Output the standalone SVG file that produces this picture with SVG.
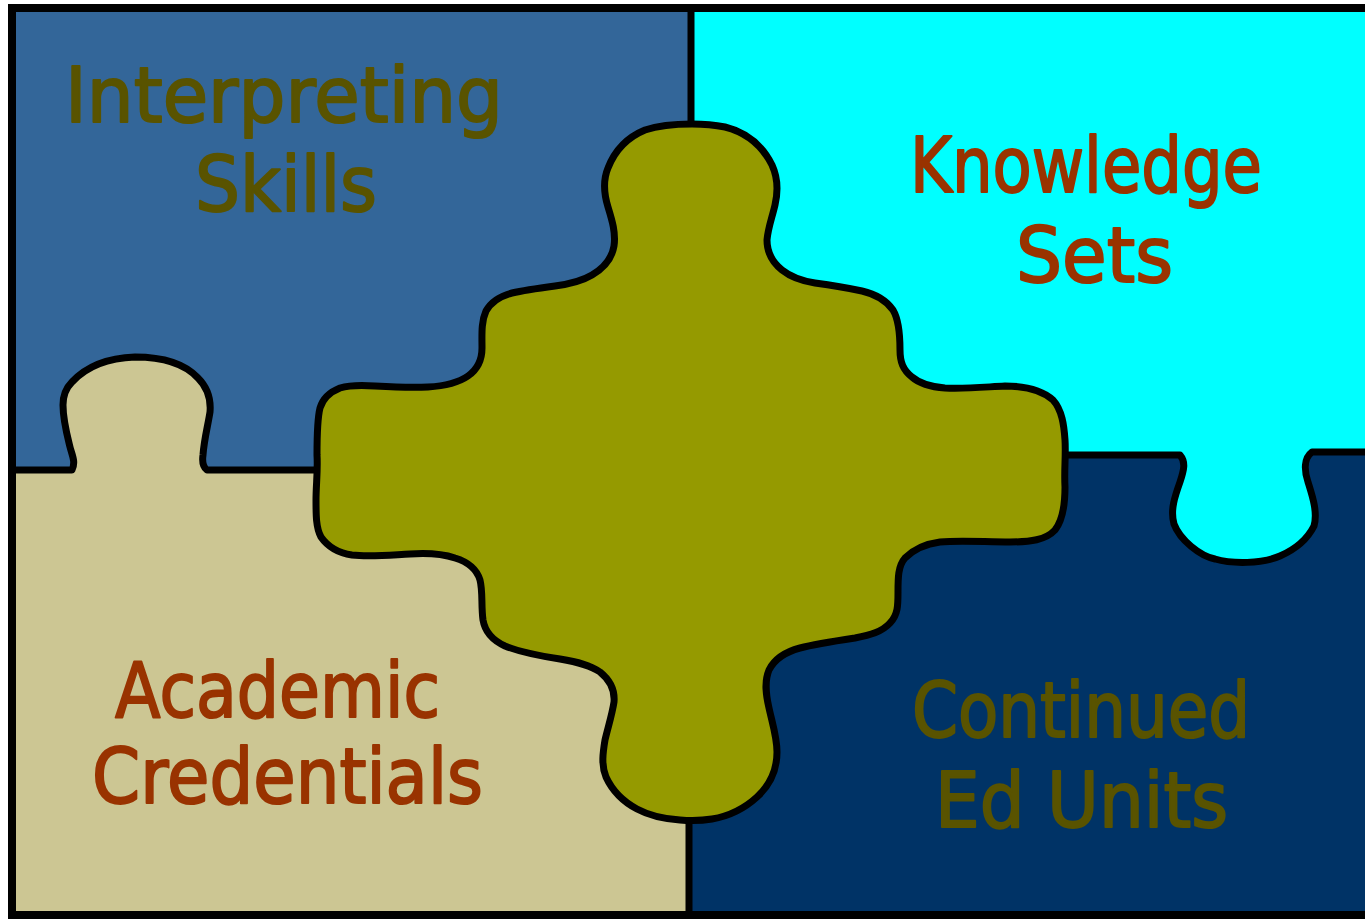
<svg xmlns="http://www.w3.org/2000/svg" width="1365" height="919" viewBox="0 0 1365 919">
<defs>
<style>
.ln{fill:none;stroke:#000;stroke-width:7;stroke-linejoin:round;stroke-linecap:round}
.t{font-family:"DejaVu Sans","Liberation Sans",sans-serif;font-size:76px;stroke-width:2;stroke-linejoin:round}
.olive{fill:#595300;stroke:#595300}
.rust{fill:#993300;stroke:#993300}
</style>
</defs>
<rect width="1365" height="919" fill="#ffffff"/>
<g id="interpreting-skills">
<rect x="12" y="8" width="679" height="462" fill="#336699"/>
<text class="t olive" x="65" y="122" textLength="438" lengthAdjust="spacingAndGlyphs">Interpreting</text>
<text class="t olive" x="195" y="211" textLength="182" lengthAdjust="spacingAndGlyphs">Skills</text>
</g>
<g id="continued-ed-units">
<rect x="689" y="455" width="682" height="461" fill="#003366"/>
<text class="t olive" x="912" y="737" textLength="338" lengthAdjust="spacingAndGlyphs">Continued</text>
<text class="t olive" x="935" y="827" textLength="293" lengthAdjust="spacingAndGlyphs">Ed Units</text>
</g>
<g id="knowledge-sets">
<rect x="691" y="8" width="680" height="447" fill="#00FFFF"/>
<path d="M1180,455 C1186,462 1184,470 1180,482 C1175,496 1170,510 1174,524 C1180,540 1200,556 1215,559 C1232,564 1262,564 1280,556 C1296,549 1308,538 1314,526 C1318,512 1312,495 1308,482 C1304,470 1304,458 1312,452 L1372,452 L1372,455 Z" fill="#00FFFF"/>
<text class="t rust" x="910" y="192" textLength="352" lengthAdjust="spacingAndGlyphs">Knowledge</text>
<text class="t rust" x="1016" y="282" textLength="157" lengthAdjust="spacingAndGlyphs">Sets</text>
</g>
<g id="academic-credentials">
<rect x="12" y="470" width="677" height="446" fill="#CCC693"/>
<path d="M72,470 C76,462 72,455 70,447 C67,435 63,420 63,405 C63,395 66,388 72,382 C85,368 105,358 135,357 C165,357 185,364 198,378 C208,388 211,400 210,412 C208,425 204,440 203,455 C202,462 203,467 207,470 Z" fill="#CCC693"/>
<text class="t rust" x="115" y="717" textLength="325" lengthAdjust="spacingAndGlyphs">Academic</text>
<text class="t rust" x="92" y="803" textLength="391" lengthAdjust="spacingAndGlyphs">Credentials</text>
</g>
<g id="connectors">
<path class="ln" d="M12,470 H72 C76,462 72,455 70,447 C67,435 63,420 63,405 C63,395 66,388 72,382 C85,368 105,358 135,357 C165,357 185,364 198,378 C208,388 211,400 210,412 C208,425 204,440 203,455 C202,462 203,467 207,470 H320"/>
<path class="ln" d="M1062,455 H1180 C1186,462 1184,470 1180,482 C1175,496 1170,510 1174,524 C1180,540 1200,556 1215,559 C1232,564 1262,564 1280,556 C1296,549 1308,538 1314,526 C1318,512 1312,495 1308,482 C1304,470 1304,458 1312,452 H1372"/>
<path class="ln" d="M691,8 V128"/>
<path class="ln" d="M689,816 V916"/>
</g>
<g id="center-piece">
<path d="M692,124 C705,124 715,125 725,127 C745,132 762,145 772,165 C778,178 778,192 775,205 C772,218 768,228 767,240 C767,252 772,262 782,270 C792,278 802,281 815,283 C830,285 848,288 862,291 C875,294 886,300 893,310 C899,320 900,335 900,350 C900,362 903,370 912,377 C920,384 932,387 945,388 C965,389 985,387 1005,386 C1025,386 1042,390 1053,400 C1062,410 1064,425 1065,440 C1066,455 1064,470 1065,487 C1065,505 1063,520 1055,530 C1046,540 1030,542 1010,542 C985,542 960,540 940,542 C925,544 913,550 905,558 C898,566 898,578 898,592 C898,605 898,615 890,623 C882,632 870,635 855,638 C835,641 815,644 800,648 C785,652 774,660 769,670 C764,682 766,695 769,708 C772,722 777,737 777,752 C777,770 770,785 757,797 C745,808 730,816 712,819 C700,821 692,821 680,820 C665,819 650,816 637,809 C622,801 612,790 606,777 C601,765 603,752 605,740 C608,727 612,715 614,702 C615,690 610,680 600,672 C590,665 578,662 560,659 C540,656 520,652 505,646 C492,640 485,632 483,620 C481,605 483,592 480,580 C477,570 468,562 455,558 C440,553 425,553 410,554 C390,555 370,557 352,555 C338,553 328,547 321,537 C316,528 316,515 316,500 C316,485 318,470 317,455 C317,438 317,420 320,408 C323,398 330,392 340,388 C350,385 362,385 375,386 C392,387 410,388 428,387 C445,386 458,383 468,376 C478,369 482,360 482,348 C482,335 481,322 486,311 C491,302 500,296 512,293 C525,290 540,288 555,286 C570,284 582,281 592,275 C604,268 612,258 614,246 C616,233 612,220 608,207 C604,194 603,180 608,168 C615,150 628,137 645,130 C660,125 675,124 692,124 Z" fill="#959A00" stroke="#000" stroke-width="7" stroke-linejoin="round"/>
</g>
<rect id="frame" x="12" y="8" width="1365" height="907" fill="none" stroke="#000" stroke-width="8"/>
</svg>
